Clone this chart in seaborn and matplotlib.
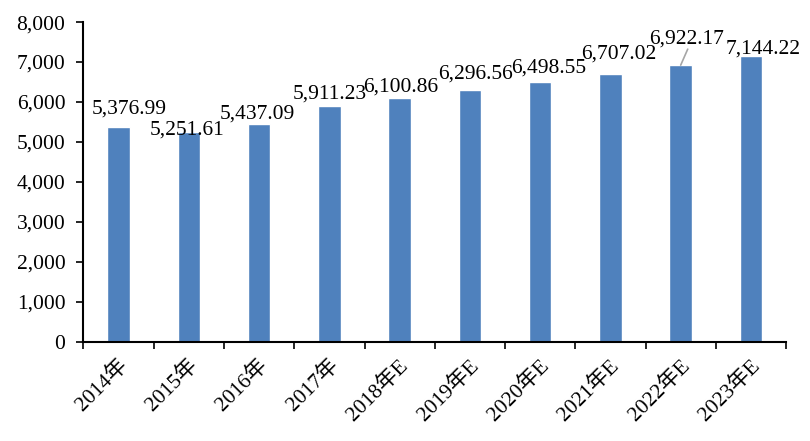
import matplotlib
matplotlib.use("Agg")
import matplotlib.pyplot as plt
import seaborn as sns
import pandas as pd

categories = ["2014年", "2015年", "2016年", "2017年", "2018年E", "2019年E",
              "2020年E", "2021年E", "2022年E", "2023年E"]
values = [5376.99, 5251.61, 5437.09, 5911.23, 6100.86, 6296.56,
          6498.55, 6707.02, 6922.17, 7144.22]
yticks = [0, 1000, 2000, 3000, 4000, 5000, 6000, 7000, 8000]

sns.set_theme(style="white")
plt.rcParams["font.family"] = ["Liberation Serif", "Noto Sans CJK SC"]
plt.rcParams["text.color"] = "black"
plt.rcParams["xtick.color"] = "black"
plt.rcParams["ytick.color"] = "black"

FS = 15.5

df = pd.DataFrame({"cat": categories, "val": values})
fig, ax = plt.subplots(figsize=(8.1, 4.41), dpi=100)
fig.subplots_adjust(left=0.103, right=0.9705, top=0.95, bottom=0.225)

sns.barplot(data=df, x="cat", y="val", color="#4F81BD", width=0.32,
            saturation=1, ax=ax)

ax.set_ylim(0, 8000)
ax.set_xlim(-0.5, len(categories) - 0.5)
ax.set_yticks(yticks)
ax.set_yticklabels([f"{v:,}" for v in yticks], fontsize=FS)
ax.set_xlabel("")
ax.set_ylabel("")

ax.set_xticks([i - 0.5 for i in range(len(categories) + 1)])
ax.set_xticklabels([])
ax.tick_params(axis="x", which="major", direction="out", length=5, width=1.2,
               color="black", bottom=True)
ax.tick_params(axis="y", direction="out", length=5, width=1.2, color="black",
               left=True, pad=8)
for i, c in enumerate(categories):
    ax.annotate(c, xy=(i, 0), xycoords=("data", "data"), xytext=(-1, -10),
                textcoords="offset points", rotation=45, ha="right", va="top",
                rotation_mode="anchor", fontsize=FS, color="black")

for s in ["top", "right"]:
    ax.spines[s].set_visible(False)
for s in ["left", "bottom"]:
    ax.spines[s].set_color("black")
    ax.spines[s].set_linewidth(1.5)

# label offsets (points) mimicking the reference placement
offsets = [(8, 12.5), (-1, 1.5), (-1, 7.5), (0, 8), (1, 7.5), (4, 11.5),
           (6, 10), (6, 14.5), (4, 18.5), (9, 5)]
for i, (v, (dx, dy)) in enumerate(zip(values, offsets)):
    ax.annotate(f"{v:,.2f}", xy=(i, v), xytext=(dx, dy),
                textcoords="offset points", ha="center", va="center",
                fontsize=FS, color="black")
# leader line for 2022E
ax.annotate("", xy=(8, values[8]), xytext=(8.1, values[8] + 400),
            arrowprops=dict(arrowstyle="-", color="#A6A6A6", lw=1.2,
                            shrinkA=0, shrinkB=0))

fig.savefig("out.png", dpi=100)
